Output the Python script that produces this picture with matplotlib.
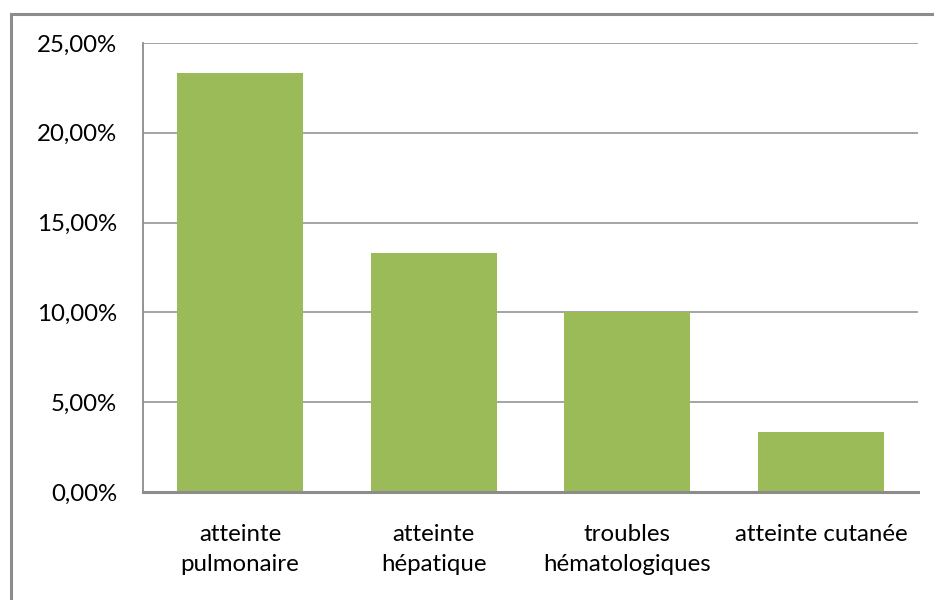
import matplotlib
matplotlib.use("Agg")
import matplotlib.pyplot as plt
from matplotlib.patches import Rectangle
from matplotlib.ticker import FuncFormatter, MultipleLocator

categories = ["atteinte\npulmonaire", "atteinte\nhépatique",
              "troubles\nhématologiques", "atteinte cutanée"]
values = [23.33, 13.33, 10.00, 3.33]

plt.rcParams["font.family"] = ["Lato", "DejaVu Sans"]

W, H = 934, 600
fig = plt.figure(figsize=(W / 100, H / 100), dpi=100)

# outer chart frame (runs off the right and bottom edges)
fig.patches.append(Rectangle((11 / W, -0.1), 1.1, (H - 14) / H + 0.1,
                             transform=fig.transFigure, fill=False,
                             edgecolor="#8c8c8c", linewidth=2.2))

ax = fig.add_axes([143 / W, (H - 492) / H, 775 / W, 449 / H])
x = range(len(categories))
ax.bar(x, values, width=0.65, color="#9BBB59", zorder=3)

ax.set_xlim(-0.5, len(categories) - 0.5)
ax.set_ylim(0, 25)
ax.yaxis.set_major_locator(MultipleLocator(5))
ax.yaxis.set_major_formatter(FuncFormatter(lambda v, p: f"{v:.2f}%".replace(".", ",")))
ax.grid(axis="y", color="#8c8c8c", linewidth=1.1, zorder=0)

ax.set_xticks(list(x))
ax.set_xticklabels(categories, linespacing=1.55)
ax.tick_params(axis="both", length=0, labelsize=17.3, colors="black")
ax.tick_params(axis="y", pad=18.5)
ax.tick_params(axis="x", pad=23)

for s in ("top", "right"):
    ax.spines[s].set_visible(False)
ax.spines["left"].set_color("#8c8c8c")
ax.spines["left"].set_linewidth(1.3)
ax.spines["bottom"].set_color("#8c8c8c")
ax.spines["bottom"].set_linewidth(2.2)
ax.spines["bottom"].set_zorder(4)

fig.savefig("out.png", dpi=100)
